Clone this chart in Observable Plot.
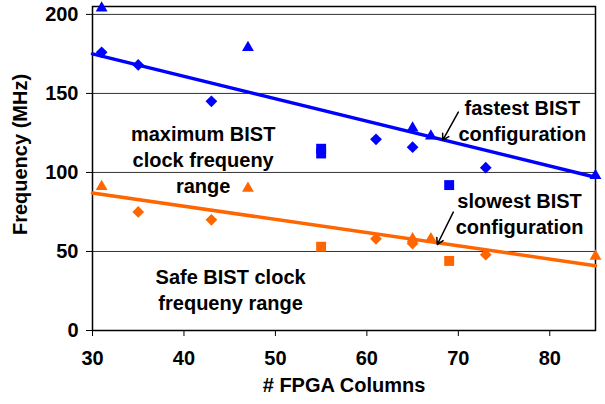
<!DOCTYPE html>
<html>
<head>
<meta charset="utf-8">
<script src="https://cdn.jsdelivr.net/npm/d3@7"></script>
<script src="https://cdn.jsdelivr.net/npm/@observablehq/plot@0.6"></script>
<style>
  html, body { margin: 0; padding: 0; background: #fff; }
</style>
</head>
<body>
<div id="chart"></div>
<script>
// ---- data ----
const xTicks = [30, 40, 50, 60, 70, 80];
const yTicks = [0, 50, 100, 150, 200];
const xLabel = "# FPGA Columns";
const yLabel = "Frequency (MHz)";

// blue (maximum BIST clock frequency)
const blueTriX = [31, 47, 65, 67, 85];
const blueTriY = [204, 179, 128, 123, 98];
const blueDiaX = [31, 35, 43, 61, 65, 73];
const blueDiaY = [176, 168, 145, 121, 116, 103];
const blueSqX = [55, 55, 69];
const blueSqY = [115, 112, 92];
const blueLineX = [30, 85];
const blueLineY = [175, 97];

// orange (safe BIST clock frequency)
const orangeTriX = [31, 47, 65, 67, 85];
const orangeTriY = [91, 90, 58, 58, 47];
const orangeDiaX = [35, 43, 61, 65, 73];
const orangeDiaY = [75, 70, 58, 55, 48];
const orangeSqX = [55, 69];
const orangeSqY = [53, 44];
const orangeLineX = [30, 85];
const orangeLineY = [87, 41];

// annotations
const noteText = [
  "maximum BIST\nclock frequeny\nrange",
  "Safe BIST clock\nfrequeny range",
  "fastest BIST\nconfiguration",
  "slowest BIST\nconfiguration"
];
const noteX = [42.1, 45.1, 77.0, 76.7];
const noteY = [108.9, 26.6, 133.2, 74.4];
const arrowX1 = [70.0, 69.45];
const arrowY1 = [138.2, 74.9];
const arrowX2 = [68.3, 67.7];
const arrowY2 = [120.4, 54.4];

const BLUE = "#0000FF";
const ORANGE = "#FF6600";

const pts = (xs, ys) => xs.map((x, i) => ({x, y: ys[i]}));
const notes = noteText.map((t, i) => ({t, x: noteX[i], y: noteY[i]}));
const arrows = arrowX1.map((x1, i) => ({x1, y1: arrowY1[i], x2: arrowX2[i], y2: arrowY2[i]}));

const chart = Plot.plot({
  width: 605,
  height: 404,
  marginLeft: 92,
  marginRight: 10,
  marginTop: 6,
  marginBottom: 74,
  style: {
    fontFamily: "Arial, 'Liberation Sans', sans-serif",
    fontSize: "20px",
    fontWeight: "bold",
    color: "#000",
    background: "#fff",
    overflow: "visible"
  },
  x: {domain: [30, 85]},
  y: {domain: [0, 205]},
  marks: [
    Plot.ruleY(yTicks.filter(d => d > 0), {stroke: "#333", strokeWidth: 1}),
    Plot.frame({stroke: "#000", strokeWidth: 1.5}),
    Plot.axisX({ticks: xTicks, tickSize: 6, tickPadding: 14, label: xLabel, labelArrow: "none", labelAnchor: "center", labelOffset: 61, stroke: "#000", fontSize: 20}),
    Plot.axisY({ticks: yTicks, tickSize: 6, tickPadding: 8, label: null, stroke: "#000", fontSize: 20}),
    Plot.text([yLabel], {frameAnchor: "left", textAnchor: "middle", rotate: -90, dx: -72, dy: -14, fontSize: 20, fontWeight: "bold", fill: "#000"}),
    Plot.line(pts(blueLineX, blueLineY), {x: "x", y: "y", stroke: BLUE, strokeWidth: 3.5}),
    Plot.line(pts(orangeLineX, orangeLineY), {x: "x", y: "y", stroke: ORANGE, strokeWidth: 3.5}),
    Plot.dot(pts(blueTriX, blueTriY), {x: "x", y: "y", symbol: "triangle", r: 4.4, fill: BLUE}),
    Plot.dot(pts(blueDiaX, blueDiaY), {x: "x", y: "y", symbol: "diamond2", r: 5.3, fill: BLUE}),
    Plot.dot(pts(blueSqX, blueSqY), {x: "x", y: "y", symbol: "square", r: 5.6, fill: BLUE}),
    Plot.dot(pts(orangeTriX, orangeTriY), {x: "x", y: "y", symbol: "triangle", r: 4.4, fill: ORANGE}),
    Plot.dot(pts(orangeDiaX, orangeDiaY), {x: "x", y: "y", symbol: "diamond2", r: 5.3, fill: ORANGE}),
    Plot.dot(pts(orangeSqX, orangeSqY), {x: "x", y: "y", symbol: "square", r: 5.6, fill: ORANGE}),
    Plot.text(notes, {x: "x", y: "y", text: "t", fontSize: 20, fontWeight: "bold", lineHeight: 1.3, fill: "#000"}),
    Plot.arrow(arrows, {x1: "x1", y1: "y1", x2: "x2", y2: "y2", stroke: "#000", strokeWidth: 1.5, headLength: 7})
  ]
});
document.getElementById("chart").appendChild(chart);
</script>
</body>
</html>
